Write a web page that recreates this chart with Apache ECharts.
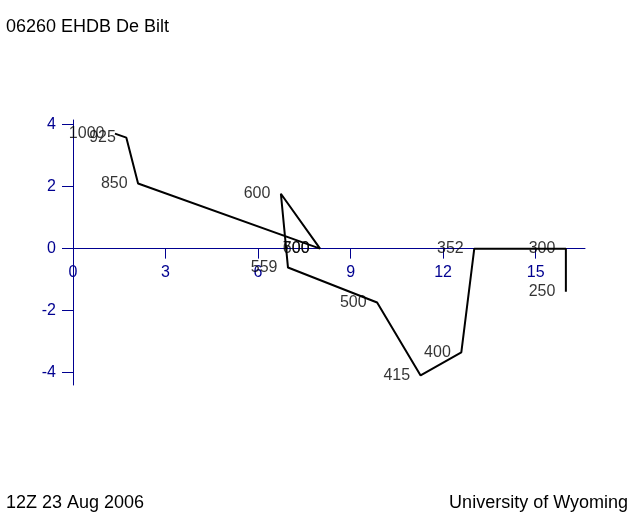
<!DOCTYPE html>
<html>
<head>
<meta charset="utf-8">
<script src="https://cdn.jsdelivr.net/npm/echarts@6/dist/echarts.min.js"></script>
<style>
  html, body { margin: 0; padding: 0; background: #fff; }
  #chart { width: 640px; height: 512px; }
</style>
</head>
<body>
<div id="chart"></div>
<script>
// hodograph: pressure levels with u / v wind components (m/s)
const levels = ["1000", "925", "850", "700", "600", "559", "500", "415", "400", "352", "300", "250"];
const uWind = [1.36, 1.73, 2.11, 8.01, 6.74, 6.97, 9.86, 11.27, 12.59, 13.01, 15.98, 15.98];
const vWind = [3.71, 3.58, 2.10, 0.0, 1.77, -0.61, -1.74, -4.09, -3.35, 0.0, 0.0, -1.39];
// a second label printed on top of the 700 level
const extraLabels = [{ name: "600", u: 8.01, v: 0.0 }];

const xTicks = [0, 3, 6, 9, 12, 15];
const yTicks = [-4, -2, 0, 2, 4];

const navy = "#000090";
const font = "Liberation Sans, Arial, sans-serif";

const yMin = -4.4, yMax = 4.15, gridTop = 120, gridH = 265;
// move the x axis up from the grid bottom to the v = 0 line
const zeroOffset = -gridH * (0 - yMin) / (yMax - yMin);

const chart = echarts.init(document.getElementById("chart"));

const points = uWind.map((u, i) => ({ name: levels[i], value: [u, vWind[i]] }));
const extraPoints = extraLabels.map(p => ({ name: p.name, value: [p.u, p.v] }));

const labelStyle = {
  show: true,
  position: "left",
  distance: 10,
  formatter: "{b}",
  color: "#000",
  fontSize: 16,
  fontFamily: font
};

const textStyle = { color: "#000", fontSize: 18, fontWeight: "normal", fontFamily: font };

const option = {
  animation: false,
  backgroundColor: "#fff",
  title: [
    { text: "06260 EHDB De Bilt", left: 1, top: 13, textStyle },
    { text: "12Z 23 Aug 2006", left: 1, top: 489, textStyle },
    { text: "University of Wyoming", right: 7, top: 489, textStyle }
  ],
  grid: { left: 73, top: gridTop, width: 512, height: gridH },
  xAxis: {
    type: "value",
    min: 0,
    max: 16.6,
    offset: zeroOffset,
    splitLine: { show: false },
    axisLine: { onZero: false, lineStyle: { color: navy, width: 1 } },
    axisTick: { show: true, length: 10, customValues: xTicks, lineStyle: { color: navy } },
    axisLabel: {
      customValues: xTicks,
      color: navy, fontSize: 16, fontFamily: font, margin: 16
    }
  },
  yAxis: {
    type: "value",
    min: yMin,
    max: yMax,
    splitLine: { show: false },
    axisLine: { show: true, onZero: false, lineStyle: { color: navy, width: 1 } },
    axisTick: { show: true, length: 11, customValues: yTicks, lineStyle: { color: navy } },
    axisLabel: {
      customValues: yTicks,
      color: navy, fontSize: 16, fontFamily: font, margin: 17
    }
  },
  series: [
    {
      type: "line",
      data: points,
      showSymbol: false,
      symbol: "none",
      lineStyle: { color: "#000", width: 2 },
      z: 3
    },
    {
      type: "scatter",
      data: points.concat(extraPoints),
      symbolSize: 1,
      itemStyle: { color: "transparent" },
      label: labelStyle,
      z: 4
    }
  ]
};

chart.setOption(option);
window.addEventListener("resize", () => chart.resize());
</script>
</body>
</html>
